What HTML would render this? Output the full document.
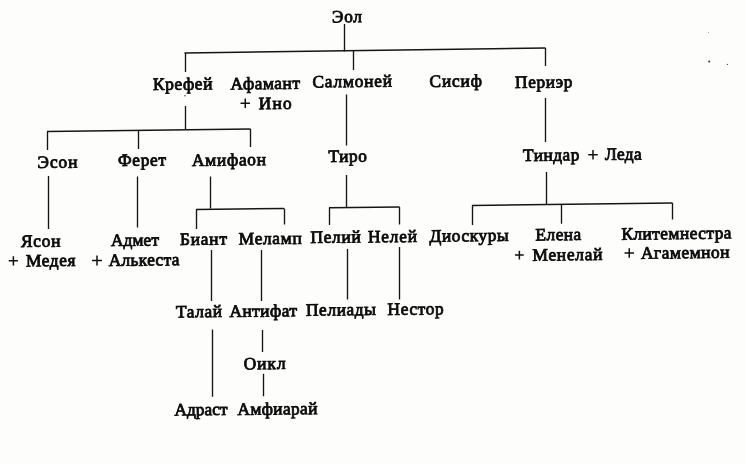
<!DOCTYPE html>
<html lang="ru"><head><meta charset="utf-8"><title>Эол</title>
<style>
html,body{margin:0;padding:0;background:#fdfefc;}
body{width:745px;height:464px;overflow:hidden;}
svg{display:block;filter:blur(0.3px);}
text{font-family:"Liberation Serif",serif;font-size:17.4px;fill:#0c0c0c;stroke:#0c0c0c;stroke-width:0.85;}
line{stroke:#151515;stroke-width:1.5;stroke-linecap:butt;}
line.v{stroke-width:1.35;}
</style></head>
<body>
<svg width="745" height="464" viewBox="0 0 745 464">
<rect width="745" height="464" fill="#fdfefc"/>
<g>
<line class="v" x1="344.5" y1="24" x2="344.5" y2="51.5"/>
<line x1="184.5" y1="53" x2="545.5" y2="48"/>
<line class="v" x1="185.5" y1="53" x2="185.5" y2="72"/>
<line class="v" x1="353.5" y1="51" x2="353.5" y2="70"/>
<line class="v" x1="545.5" y1="48" x2="545.5" y2="66"/>
<line class="v" x1="185.5" y1="106" x2="185.5" y2="129"/>
<line x1="47" y1="131.5" x2="250.5" y2="129"/>
<line class="v" x1="47.5" y1="131.5" x2="47.5" y2="150"/>
<line class="v" x1="138.5" y1="130.5" x2="138.5" y2="149"/>
<line class="v" x1="250.5" y1="129" x2="250.5" y2="147"/>
<line class="v" x1="48.5" y1="176" x2="48.5" y2="229"/>
<line class="v" x1="137.5" y1="176.5" x2="137.5" y2="227.5"/>
<line class="v" x1="210.5" y1="176.5" x2="210.5" y2="208.5"/>
<line x1="196" y1="209.5" x2="284" y2="208.5"/>
<line class="v" x1="196.5" y1="209.5" x2="196.5" y2="229"/>
<line class="v" x1="284.5" y1="208.5" x2="284.5" y2="224.5"/>
<line class="v" x1="346.5" y1="94.5" x2="346.5" y2="145.5"/>
<line class="v" x1="346.5" y1="175" x2="346.5" y2="208"/>
<line x1="329" y1="207.8" x2="399.5" y2="207"/>
<line class="v" x1="329.5" y1="207.8" x2="329.5" y2="225"/>
<line class="v" x1="399.5" y1="207" x2="399.5" y2="224.5"/>
<line class="v" x1="545.5" y1="98" x2="545.5" y2="142"/>
<line class="v" x1="546.5" y1="172" x2="546.5" y2="205"/>
<line x1="472" y1="205.5" x2="672.5" y2="203"/>
<line class="v" x1="472.5" y1="205.5" x2="472.5" y2="225"/>
<line class="v" x1="561.5" y1="204.5" x2="561.5" y2="223.75"/>
<line class="v" x1="672.5" y1="203" x2="672.5" y2="219.5"/>
<line class="v" x1="211.5" y1="250" x2="211.5" y2="301"/>
<line class="v" x1="261.5" y1="250" x2="261.5" y2="301"/>
<line class="v" x1="347.5" y1="249" x2="347.5" y2="299.5"/>
<line class="v" x1="399.5" y1="247" x2="399.5" y2="299.5"/>
<line class="v" x1="212.5" y1="329.5" x2="212.5" y2="396.75"/>
<line class="v" x1="262.5" y1="330" x2="262.5" y2="352"/>
<line class="v" x1="263.5" y1="373.75" x2="263.5" y2="396.25"/>
<circle cx="185" cy="95.75" r="0.7" fill="#333"/>
<circle cx="709.2" cy="61.4" r="1.0" fill="#333"/>
<circle cx="727.4" cy="64.4" r="0.55" fill="#333"/>
<circle cx="708.5" cy="32.5" r="0.4" fill="#333"/>
</g>
<g>
<text x="332" y="22.5" textLength="30" lengthAdjust="spacing" transform="rotate(-0.65 332 22.5)">Эол</text>
<text x="153" y="90" textLength="59.5" lengthAdjust="spacing" transform="rotate(-0.65 153 90)">Крефей</text>
<text x="230.5" y="89.5" textLength="69.5" lengthAdjust="spacing" transform="rotate(-0.65 230.5 89.5)">Афамант</text>
<path d="M240.5 103.25H250M245.25 98.5V108.0" stroke="#111" stroke-width="1.5" fill="none"/>
<text x="258.75" y="109.25" textLength="33.0" lengthAdjust="spacing" transform="rotate(-0.65 258.75 109.25)">Ино</text>
<text x="312.5" y="87.5" textLength="79.5" lengthAdjust="spacing" transform="rotate(-0.65 312.5 87.5)">Салмоней</text>
<text x="429.5" y="87" textLength="52.5" lengthAdjust="spacing" transform="rotate(-0.65 429.5 87)">Сисиф</text>
<text x="515" y="88" textLength="57.5" lengthAdjust="spacing" transform="rotate(-0.65 515 88)">Периэр</text>
<text x="37.5" y="168" textLength="40.0" lengthAdjust="spacing" transform="rotate(-0.65 37.5 168)">Эсон</text>
<text x="118" y="166" textLength="48" lengthAdjust="spacing" transform="rotate(-0.65 118 166)">Ферет</text>
<text x="192" y="166" textLength="74" lengthAdjust="spacing" transform="rotate(-0.65 192 166)">Амифаон</text>
<text x="328.5" y="162" textLength="38.5" lengthAdjust="spacing" transform="rotate(-0.65 328.5 162)">Тиро</text>
<text x="523" y="161" textLength="56.5" lengthAdjust="spacing" transform="rotate(-0.65 523 161)">Тиндар</text>
<path d="M588.25 154.75H597.75M593.0 150.0V159.5" stroke="#111" stroke-width="1.5" fill="none"/>
<text x="605" y="160" textLength="36.75" lengthAdjust="spacing" transform="rotate(-0.65 605 160)">Леда</text>
<text x="21" y="247" textLength="39.5" lengthAdjust="spacing" transform="rotate(-0.65 21 247)">Ясон</text>
<path d="M8.75 260.75H18M13.375 256.125V265.375" stroke="#111" stroke-width="1.5" fill="none"/>
<text x="26" y="266.5" textLength="49.5" lengthAdjust="spacing" transform="rotate(-0.65 26 266.5)">Медея</text>
<text x="111" y="246" textLength="48" lengthAdjust="spacing" transform="rotate(-0.65 111 246)">Адмет</text>
<path d="M92 260.5H102M97.0 255.5V265.5" stroke="#111" stroke-width="1.5" fill="none"/>
<text x="108.75" y="266" textLength="70.75" lengthAdjust="spacing" transform="rotate(-0.65 108.75 266)">Алькеста</text>
<text x="180" y="245" textLength="47" lengthAdjust="spacing" transform="rotate(-0.65 180 245)">Биант</text>
<text x="238.75" y="244.5" textLength="63.0" lengthAdjust="spacing" transform="rotate(-0.65 238.75 244.5)">Меламп</text>
<text x="310.5" y="243" textLength="50.25" lengthAdjust="spacing" transform="rotate(-0.65 310.5 243)">Пелий</text>
<text x="368" y="242.5" textLength="49" lengthAdjust="spacing" transform="rotate(-0.65 368 242.5)">Нелей</text>
<text x="429.5" y="241.75" textLength="79.25" lengthAdjust="spacing" transform="rotate(-0.65 429.5 241.75)">Диоскуры</text>
<text x="535.5" y="240.5" textLength="45.75" lengthAdjust="spacing" transform="rotate(-0.65 535.5 240.5)">Елена</text>
<path d="M515 255.0H523.75M519.375 250.625V259.375" stroke="#111" stroke-width="1.5" fill="none"/>
<text x="532.5" y="260.75" textLength="70.0" lengthAdjust="spacing" transform="rotate(-0.65 532.5 260.75)">Менелай</text>
<text x="621.5" y="239.75" textLength="110.0" lengthAdjust="spacing" transform="rotate(-0.65 621.5 239.75)">Клитемнестра</text>
<path d="M624.5 253.0H634M629.25 248.25V257.75" stroke="#111" stroke-width="1.5" fill="none"/>
<text x="641" y="258.75" textLength="88.5" lengthAdjust="spacing" transform="rotate(-0.65 641 258.75)">Агамемнон</text>
<text x="176" y="317.5" textLength="46" lengthAdjust="spacing" transform="rotate(-0.65 176 317.5)">Талай</text>
<text x="229.5" y="317" textLength="67.5" lengthAdjust="spacing" transform="rotate(-0.65 229.5 317)">Антифат</text>
<text x="306" y="315.75" textLength="70" lengthAdjust="spacing" transform="rotate(-0.65 306 315.75)">Пелиады</text>
<text x="387.5" y="315" textLength="56.25" lengthAdjust="spacing" transform="rotate(-0.65 387.5 315)">Нестор</text>
<text x="243.75" y="369.5" textLength="42.0" lengthAdjust="spacing" transform="rotate(-0.65 243.75 369.5)">Оикл</text>
<text x="174.5" y="415.5" textLength="53.0" lengthAdjust="spacing" transform="rotate(-0.65 174.5 415.5)">Адраст</text>
<text x="237.5" y="415" textLength="80.0" lengthAdjust="spacing" transform="rotate(-0.65 237.5 415)">Амфиарай</text>
</g>
</svg>
</body></html>
